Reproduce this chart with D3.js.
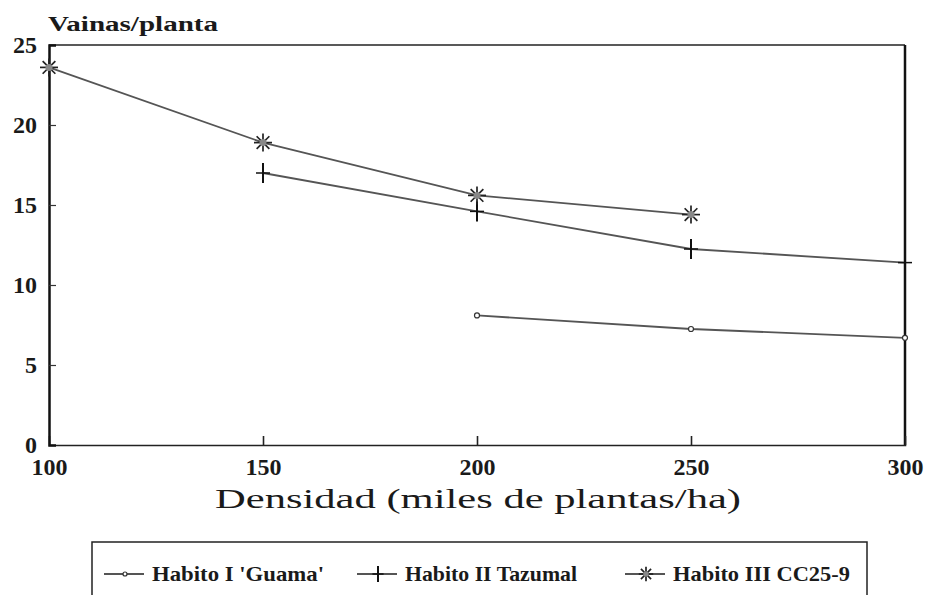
<!DOCTYPE html>
<html>
<head>
<meta charset="utf-8">
<script src="https://cdn.jsdelivr.net/npm/d3@7"></script>
<style>
  body { margin: 0; background: #fff; }
  text { font-family: "Liberation Serif", "DejaVu Serif", serif; fill: #1a1a1a; }
</style>
</head>
<body>
<div id="chart"></div>
<script>
const width = 926, height = 595;

// data
const xTicks = [100, 150, 200, 250, 300];
const yTicks = [0, 5, 10, 15, 20, 25];
const habitoI = [[200, 8.1], [250, 7.25], [300, 6.7]];
const habitoII = [[150, 17.0], [200, 14.6], [250, 12.25], [300, 11.4]];
const habitoIII = [[100, 23.6], [150, 18.9], [200, 15.6], [250, 14.4]];
const seriesNames = ["Habito I 'Guama'", "Habito II Tazumal", "Habito III CC25-9"];

const series = [
  { name: seriesNames[0], values: habitoI, marker: 'circle' },
  { name: seriesNames[1], values: habitoII, marker: 'cross' },
  { name: seriesNames[2], values: habitoIII, marker: 'star' }
];

const x = d3.scaleLinear().domain([100, 300]).range([49, 905]);
const y = d3.scaleLinear().domain([0, 25]).range([445, 45]);

const svg = d3.select('#chart').append('svg')
  .attr('width', width)
  .attr('height', height);

// frame
svg.append('line').attr('x1', 49).attr('x2', 905).attr('y1', 45).attr('y2', 45)
  .attr('stroke', '#222').attr('stroke-width', 1.5);
svg.append('line').attr('x1', 905).attr('x2', 905).attr('y1', 45).attr('y2', 445)
  .attr('stroke', '#111').attr('stroke-width', 2.5);

// axes
const xAxis = svg.append('g')
  .attr('transform', 'translate(0,445)')
  .call(d3.axisBottom(x).tickValues(xTicks).tickSize(-9).tickPadding(13).tickFormat(d3.format('d')));
xAxis.select('.domain').attr('stroke', '#222').attr('stroke-width', 1.6);
xAxis.selectAll('.tick line').attr('stroke', '#222').attr('stroke-width', 1.6);
xAxis.selectAll('.tick text')
  .attr('font-size', 24).attr('font-weight', 'bold').attr('font-family', '"Liberation Serif", serif')
  .attr('fill', '#1a1a1a');
xAxis.selectAll('.tick').filter(d => d === 100 || d === 300).select('line').remove();

const yAxis = svg.append('g')
  .attr('transform', 'translate(49,0)')
  .call(d3.axisLeft(y).tickValues(yTicks).tickSize(-7).tickPadding(12));
yAxis.select('.domain').attr('stroke', '#111').attr('stroke-width', 2.5);
yAxis.selectAll('.tick line').attr('stroke', '#333').attr('stroke-width', 1.2);
yAxis.selectAll('.tick text')
  .attr('font-size', 24).attr('font-weight', 'bold').attr('font-family', '"Liberation Serif", serif')
  .attr('fill', '#1a1a1a');
yAxis.selectAll('.tick').filter(d => d === 0 || d === 25).select('line').remove();

// titles
svg.append('text').attr('x', 48).attr('y', 31)
  .attr('font-size', 20).attr('font-weight', 'bold')
  .attr('textLength', 170)
  .attr('lengthAdjust', 'spacingAndGlyphs')
  .text('Vainas/planta');

svg.append('text').attr('x', 478).attr('y', 508)
  .attr('text-anchor', 'middle')
  .attr('font-size', 28)
  .attr('font-family', '"DejaVu Serif", serif')
  .attr('textLength', 526)
  .attr('lengthAdjust', 'spacingAndGlyphs')
  .text('Densidad (miles de plantas/ha)');

// markers
function drawMarker(g, type, cx, cy, s) {
  if (type === 'circle') {
    g.append('circle').attr('cx', cx).attr('cy', cy).attr('r', 2.5 * s)
      .attr('fill', '#fff').attr('stroke', '#333').attr('stroke-width', 1.2);
  } else if (type === 'cross') {
    g.append('line').attr('x1', cx).attr('x2', cx).attr('y1', cy - 10 * s).attr('y2', cy + 10 * s)
      .attr('stroke', '#111').attr('stroke-width', 2);
    g.append('line').attr('x1', cx - 7 * s).attr('x2', cx + 7 * s).attr('y1', cy).attr('y2', cy)
      .attr('stroke', '#111').attr('stroke-width', 1.5);
  } else {
    for (let i = 0; i < 4; i++) {
      const a = i * Math.PI / 4;
      g.append('line')
        .attr('x1', cx - Math.cos(a) * 9 * s).attr('y1', cy - Math.sin(a) * 9 * s)
        .attr('x2', cx + Math.cos(a) * 9 * s).attr('y2', cy + Math.sin(a) * 9 * s)
        .attr('stroke', '#222').attr('stroke-width', 1.7);
    }
    g.append('circle').attr('cx', cx).attr('cy', cy).attr('r', 3.5 * s).attr('fill', '#888');
  }
}

const line = d3.line().x(d => x(d[0])).y(d => y(d[1]));
const plot = svg.append('g');

series.forEach(s => {
  plot.append('path')
    .datum(s.values)
    .attr('d', line)
    .attr('fill', 'none')
    .attr('stroke', '#555')
    .attr('stroke-width', 1.8);
  s.values.forEach(d => drawMarker(plot, s.marker, x(d[0]), y(d[1]), 1));
});

// legend
const legend = svg.append('g');
legend.append('rect').attr('x', 92).attr('y', 542).attr('width', 775).attr('height', 70)
  .attr('fill', 'none').attr('stroke', '#222').attr('stroke-width', 1.5);

const legendX = [104, 357, 625];
const legendTextLen = [172, 172, 177];
series.forEach((s, i) => {
  const lx = legendX[i], ly = 574;
  legend.append('line').attr('x1', lx).attr('x2', lx + 40).attr('y1', ly).attr('y2', ly)
    .attr('stroke', '#555').attr('stroke-width', 1.8);
  drawMarker(legend, s.marker, lx + 21, ly, 0.8);
  legend.append('text').attr('x', lx + 48).attr('y', ly + 7)
    .attr('font-size', 21).attr('font-weight', 'bold')
    .attr('textLength', legendTextLen[i])
    .attr('lengthAdjust', 'spacingAndGlyphs')
    .text(s.name);
});
</script>
</body>
</html>
